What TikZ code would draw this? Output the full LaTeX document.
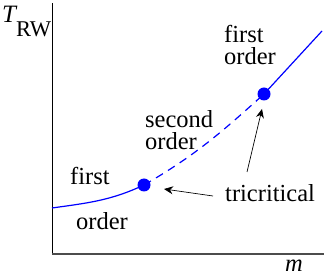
\documentclass[tikz,border=0pt]{standalone}
\usepackage{fontspec}
\setmainfont{Liberation Serif}
\usetikzlibrary{arrows.meta}
\tikzset{
  lbl/.style={anchor=base west, inner sep=0pt, align=left, font=\fontsize{24.5}{22}\selectfont},
  curve/.style={blue, line width=1.2pt},
  tc/.style={circle, fill=blue, inner sep=0pt, minimum size=13pt},
  pointer/.style={black, line width=0.7pt, -{Stealth[length=9pt,width=8pt,inset=3pt]}}
}
\begin{document}
\begin{tikzpicture}[x=1pt,y=1pt]
\useasboundingbox (0,0) rectangle (329,278);
% axes
\coordinate (O) at (52,24);
\coordinate (Ytop) at (52,275);
\coordinate (Xend) at (324,24);
\draw[black, line width=0.9pt] (O) -- (Ytop);
\draw[black!70, line width=1.8pt] (O) -- (Xend);
% curve
\coordinate (c0) at (52,70);
\coordinate (c3) at (322,247);
\node[tc] (d1) at (144,93) {};
\node[tc] (d2) at (264,184) {};
\draw[curve] (c0) to[out=8,in=-155] (d1.center);
\draw[curve, dash pattern=on 8pt off 6pt] (d1.center) to[out=30,in=-138] (d2.center);
\draw[curve] (d2.center) -- (c3);
% labels
\node[lbl, font=\fontsize{25}{25}\selectfont] (ty) at (2,255) {\textit{T}};
\node[lbl, font=\fontsize{22.5}{22.5}\selectfont] (rw) at (16,241) {RW};
\node[lbl] (f1) at (224,213) {first\\order};
\node[lbl] (so) at (145,128) {second\\order};
\node[lbl] (f2) at (70,93) {first};
\node[lbl] (o2) at (76,48) {order};
\node[lbl] (tri) at (225,76) {tricritical};
\node[lbl] (m) at (285,6) {\textit{m}};
% pointers
\coordinate (a1s) at (213,82);
\coordinate (a1e) at (164,89);
\coordinate (a2s) at (247,106);
\coordinate (a2e) at (262,169);
\draw[pointer] (a1s) -- (a1e);
\draw[pointer] (a2s) -- (a2e);
\end{tikzpicture}
\end{document}
